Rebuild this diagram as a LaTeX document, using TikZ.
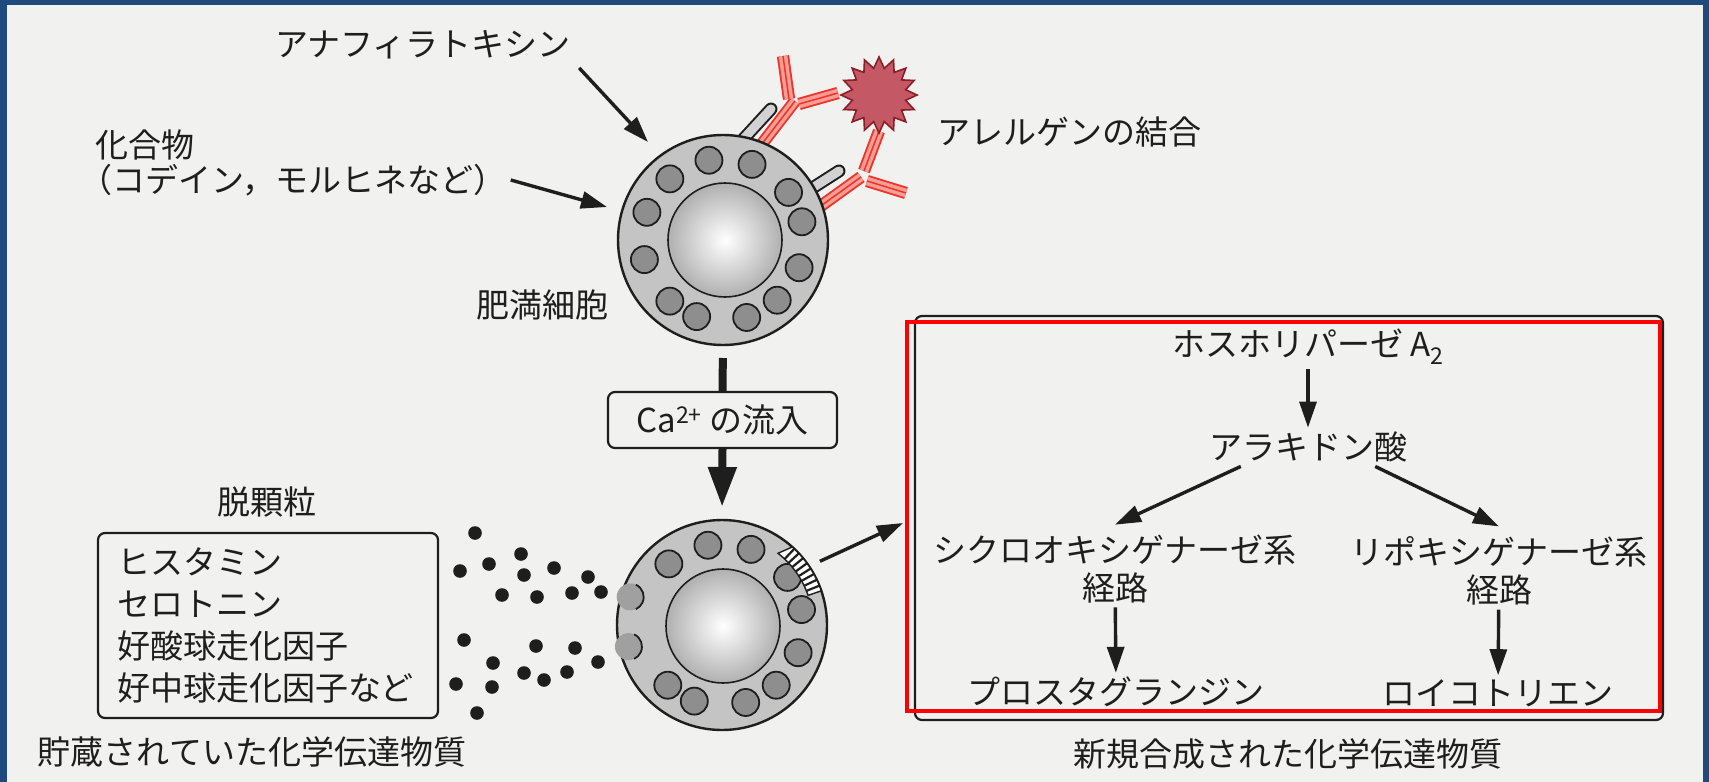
\documentclass[tikz,border=0pt]{standalone}
\usepackage{fontspec}
\setmainfont{Noto Sans CJK JP}
\usetikzlibrary{arrows.meta,shapes.geometric}

\definecolor{khung}{RGB}{31,74,126}
\definecolor{giay}{RGB}{241,241,239}
\definecolor{muc}{RGB}{30,30,30}
\definecolor{chatte}{RGB}{196,196,196}
\definecolor{hatxam}{RGB}{142,142,142}
\definecolor{hatnhat}{RGB}{160,160,160}
\definecolor{khangdo}{RGB}{236,52,44}
\definecolor{khanghong}{RGB}{246,158,148}
\definecolor{diung}{RGB}{196,88,100}
\definecolor{diungvien}{RGB}{140,30,40}
\definecolor{donghop}{RGB}{255,0,0}

\tikzset{
  cell/.style={circle, draw=muc, line width=2.4pt, fill=chatte, minimum size=210pt, inner sep=0pt, outer sep=0pt},
  nucleus/.style={circle, draw=muc, line width=1.6pt, inner color=white, outer color=gray!62, minimum size=114pt, inner sep=0pt},
  granule/.style={draw=muc, line width=1.8pt, fill=hatxam},
  lbl/.style={inner sep=4pt, text=muc},
  arr/.style={-{Triangle[length=26pt,width=17pt]}, line width=3.4pt, draw=muc},
  fatarr/.style={-{Triangle[length=40pt,width=27pt]}, line width=8pt, draw=muc},
  rod/.style={line width=13pt, line cap=round, draw=muc}
}

% doan khang the: vien do, ruot hong, vach giua
\newcommand{\doan}[2]{%
  \draw[khangdo, line width=1.9pt, double=khanghong, double distance=8.5pt] #1 -- #2;
  \draw[khangdo, line width=1.5pt] #1 -- #2;}

\begin{document}
\begin{tikzpicture}[x=1pt, y=-1pt, font=\fontsize{33}{40}\selectfont]

	% 1. Nen va khung
	\def\W{1709}
	\def\H{782}
	\useasboundingbox (0,0) rectangle (\W,\H);
	\fill[giay] (0,0) rectangle (\W,\H);
	\fill[khung] (0,0) rectangle (7,\H);
	\fill[khung] (0,0) rectangle (\W,5);
	\fill[khung] (1703,0) rectangle (\W,\H);

	% 2. Thu the va khang the (ve truoc te bao)
	\draw[rod] (737,146) -- (771,109);
	\draw[line width=9pt, line cap=round, gray!35] (737,146) -- (771,109);
	\draw[rod] (803,194) -- (839,171);
	\draw[line width=9pt, line cap=round, gray!35] (803,194) -- (839,171);
	\doan{(758,149)}{(795,101)}
	\doan{(818,208)}{(861,177)}

	% 3. Te bao phia tren
	\node[cell] (topcell) at (723,240) {};
	\node[nucleus] (topnuc) at (725,240) {};
	\foreach \a in {-131,-100,-69,-36,-13,20,48,73,109,131,166,-160}
		\filldraw[granule] ([shift={(\a:81)}]topcell.center) circle (13.5);

	% nhanh khang the va di nguyen
	\doan{(789,99)}{(783,56)}
	\doan{(799,104)}{(838,93)}
	\doan{(864,171)}{(879,131)}
	\doan{(867,181)}{(906,193)}
	\node[star, star points=16, star point ratio=1.4, minimum size=76pt, inner sep=0pt,
		draw=diungvien, fill=diung, line width=1.6pt] (allergen) at (879,95) {};

	% 4. Nhan chu phia tren
	\node[lbl, anchor=west] (anaphy) at (271,45) {アナフィラトキシン};
	\node[lbl, anchor=west] (hop1) at (91,145) {化合物};
	\node[lbl, anchor=west] (hop2) at (75,180) {（コデイン，モルヒネなど）};
	\node[lbl] (cellname) at (542,305) {肥満細胞};
	\node[lbl, anchor=west] (bind) at (933,132) {アレルゲンの結合};

	\coordinate (toA) at (648,142);
	\coordinate (toB) at (607,207);
	\draw[arr, shorten <=6pt] (anaphy.south east) -- (toA);
	\draw[arr] (hop2.east) -- (toB);

	% 5. Dong Ca2+
	\node[lbl, draw=muc, line width=2.2pt, rounded corners=7pt, minimum width=229pt,
		minimum height=56pt] (cabox) at (722.5,420) {Ca\textsuperscript{2+} の流入};

	% 6. Te bao phia duoi (thoat hat)
	\node[cell] (botcell) at (722,625) {};
	\node[nucleus] (botnuc) at (723,626) {};
	\foreach \a in {-131,-100,-69,-36,-11,20,48,73,110,132}
		\filldraw[granule] ([shift={(\a:81)}]botcell.center) circle (13.5);
	\foreach \a in {-163,167}{
		\fill[hatnhat] ([shift={(\a:96)}]botcell.center) circle (13.5);
		\draw[muc, line width=1.8pt] ([shift={(\a:96)}]botcell.center) ++(-65:13.5)
			arc[start angle=-65, end angle=65, radius=13.5];
	}
	% vung mang bi bien doi
	\filldraw[fill=white, draw=muc, line width=1.4pt]
		([shift={(-19:91)}]botcell.center) arc[start angle=-19, end angle=-52, radius=91]
		-- ([shift={(-48:105)}]botcell.center) arc[start angle=-48, end angle=-19, radius=105]
		-- cycle;
	\foreach \a in {-22,-25.5,...,-49}
		\draw[muc, line width=2.2pt] ([shift={(\a:91)}]botcell.center) -- ([shift={(\a:105)}]botcell.center);

	\draw[line width=8pt, muc, shorten <=13pt] (topcell.south) -- (cabox.north);
	\draw[fatarr, shorten >=13pt] (cabox.south) -- (botcell.north);

	% 7. Hat duoc phong thich
	\foreach \p in {(475,533),(460,571),(489,564),(521,554),(524,575),(502,595),
		(537,597),(554,568),(588,577),(572,593),(601,592),(464,640),(536,646),
		(575,648),(493,663),(598,662),(524,673),(544,680),(567,672),(456,684),
		(492,687),(477,713)}
		\fill[muc] \p circle (6.8);

	% 8. Chat trung gian du tru
	\node[lbl] (degran) at (267,502) {脱顆粒};
	\node[draw=muc, line width=2.2pt, rounded corners=7pt, minimum width=340pt,
		minimum height=185pt, text width=302pt, align=left, inner sep=0pt, text=muc,
		font=\fontsize{33}{42}\selectfont] (kho) at (268,625.5)
		{ヒスタミン\\セロトニン\\好酸球走化因子\\好中球走化因子など};
	\node[lbl] (store) at (252,752) {貯蔵されていた化学伝達物質};

	% 9. Chat trung gian moi tong hop
	\node[draw=muc, line width=2.2pt, rounded corners=7pt, minimum width=748pt,
		minimum height=404pt, inner sep=0pt] (synbox) at (1289,518) {};
	\draw[donghop, line width=4pt] (907,322) rectangle (1660,711);
	\draw[arr, shorten <=12pt, shorten >=12pt] (botcell.34) -- (synbox.west);

	\node[lbl] (pla) at (1308,347) {ホスホリパーゼ A\textsubscript{2}};
	\node[lbl] (ara) at (1308,447) {アラキドン酸};
	\node[lbl, align=center, font=\fontsize{33}{38}\selectfont] (cox) at (1115,569)
		{シクロオキシゲナーゼ系\\経路};
	\node[lbl, align=center, font=\fontsize{33}{38}\selectfont] (lox) at (1499,571)
		{リポキシゲナーゼ系\\経路};
	\node[lbl] (pg) at (1116,692) {プロスタグランジン};
	\node[lbl] (lt) at (1498,693) {ロイコトリエン};

	\draw[arr] (pla) -- (ara);
	\draw[arr] ([xshift=36pt]ara.south west) -- ([yshift=6pt]cox.north);
	\draw[arr] ([xshift=-36pt]ara.south east) -- ([yshift=6pt]lox.north);
	\draw[arr] (cox) -- (pg);
	\draw[arr] (lox) -- (lt);

	\node[lbl] (newsyn) at (1288,754) {新規合成された化学伝達物質};

\end{tikzpicture}
\end{document}
